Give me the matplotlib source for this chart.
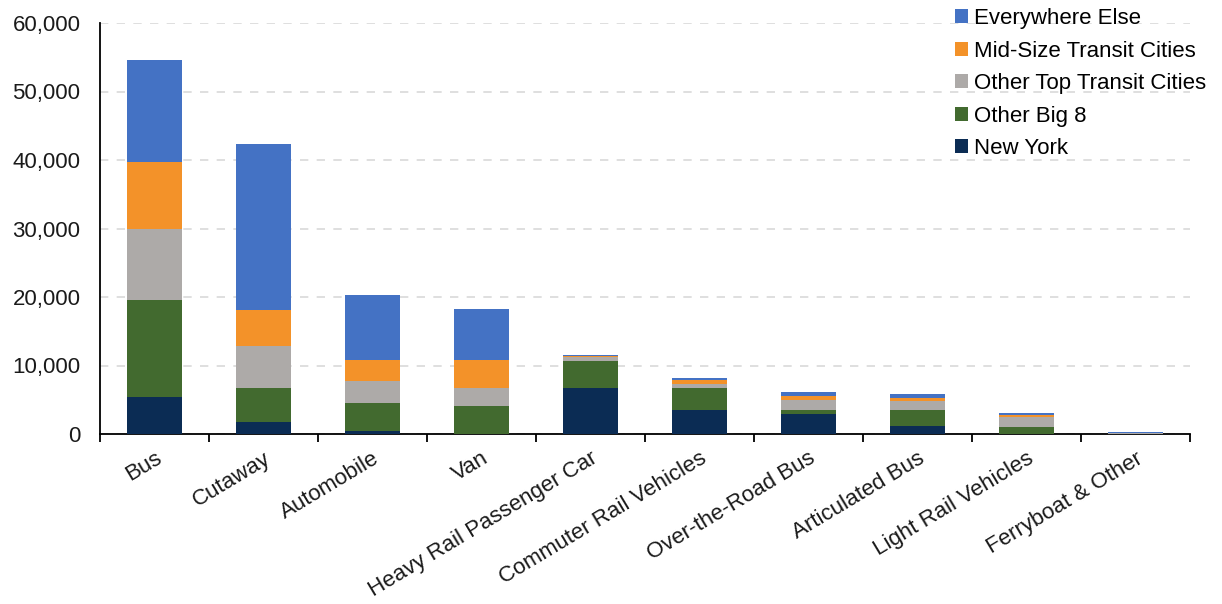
import matplotlib
matplotlib.use("Agg")
import matplotlib.pyplot as plt
import numpy as np
from matplotlib.ticker import FuncFormatter, FixedLocator

plt.rcParams['font.family'] = ['Liberation Sans', 'DejaVu Sans']

categories = ["Bus", "Cutaway", "Automobile", "Van", "Heavy Rail Passenger Car",
              "Commuter Rail Vehicles", "Over-the-Road Bus", "Articulated Bus",
              "Light Rail Vehicles", "Ferryboat & Other"]
new_york        = [5460, 1700, 480,    0, 6680, 3560, 2930, 1120,   50,  30]
other_big8      = [14150, 5030, 4100, 4140, 3950, 3120,  630, 2440,  920,  30]
other_top       = [10390, 6090, 3120, 2590,  590,  640, 1460, 1310, 1560,  30]
mid_size        = [9750, 5220, 3030, 4000,  150,  630,  580,  400,  300,  30]
everywhere_else = [14880, 24300, 9510, 7560, 100,  240,  490,  580,  190, 220]

series = [("New York", new_york, "#0B2C54"),
          ("Other Big 8", other_big8, "#426A2F"),
          ("Other Top Transit Cities", other_top, "#ADAAA8"),
          ("Mid-Size Transit Cities", mid_size, "#F39229"),
          ("Everywhere Else", everywhere_else, "#4472C4")]

fig = plt.figure(figsize=(12.22, 6.04), dpi=100)
ax = fig.add_axes([100/1222, 1-434/604, 1090/1222, (434-23)/604])

x = np.arange(len(categories))
bottom = np.zeros(len(categories))
handles = []
for name, vals, col in series:
    b = ax.bar(x, vals, 0.5, bottom=bottom, color=col, label=name, zorder=3)
    handles.append(b)
    bottom += np.array(vals)

ax.set_xlim(-0.5, len(categories) - 0.5)
ax.set_ylim(0, 60000)
ax.yaxis.set_major_locator(FixedLocator(np.arange(0, 60001, 10000)))
ax.yaxis.set_major_formatter(FuncFormatter(lambda v, p: f"{int(v):,}"))
ax.grid(axis='y', linestyle=(0, (5, 5)), color='#D9D9D9', linewidth=1.2, zorder=0)
for s in ['top', 'right']:
    ax.spines[s].set_visible(False)
ax.spines['left'].set_linewidth(1.3)
ax.spines['bottom'].set_linewidth(1.3)
ax.tick_params(axis='y', length=0, labelsize=16, pad=14, colors='#1a1a1a')

# category ticks at boundaries, labels centred
ax.set_xticks(np.arange(len(categories) + 1) - 0.5)
ax.set_xticklabels([])
ax.tick_params(axis='x', which='major', length=6, width=1.3, direction='out')
ax.set_xticks(x, minor=True)
ax.set_xticklabels(categories, minor=True, rotation=31, ha='right',
                   rotation_mode='anchor', fontsize=16, color='#1a1a1a')
ax.tick_params(axis='x', which='minor', length=0, pad=10)

leg = ax.legend(handles[::-1], [s[0] for s in series][::-1], loc='upper left',
                bbox_to_anchor=(846/1090, 1.058), frameon=False, fontsize=16,
                handlelength=0.6, handleheight=0.6, handletextpad=0.25,
                labelspacing=0.52, borderaxespad=0)

fig.savefig("out.png", dpi=100)
